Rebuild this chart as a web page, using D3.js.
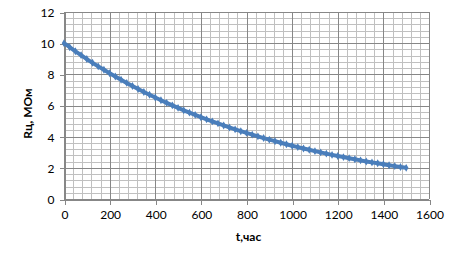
<!DOCTYPE html>
<html>
<head>
<meta charset="utf-8">
<script src="https://cdn.jsdelivr.net/npm/d3@7"></script>
<style>
  body { margin: 0; background: #fff; }
  svg { display: block; font-family: Lato, "Open Sans", sans-serif; }
</style>
</head>
<body>
<div id="chart"></div>
<script>
// hours
const hours = [0, 25, 50, 75, 100, 125, 150, 175, 200, 225, 250, 275, 300, 325, 350, 375,
  400, 425, 450, 475, 500, 525, 550, 575, 600, 625, 650, 675, 700, 725, 750, 775,
  800, 825, 850, 875, 900, 925, 950, 975, 1000, 1025, 1050, 1075, 1100, 1125, 1150, 1175,
  1200, 1225, 1250, 1275, 1300, 1325, 1350, 1375, 1400, 1425, 1450, 1475, 1500];
// resistance, MOhm
const resist = [10, 9.74, 9.48, 9.23, 8.98, 8.74, 8.51, 8.29, 8.07, 7.86, 7.65, 7.45, 7.25, 7.06, 6.87, 6.69,
  6.51, 6.34, 6.17, 6.01, 5.85, 5.69, 5.54, 5.40, 5.25, 5.11, 4.98, 4.85, 4.72, 4.59, 4.47, 4.35,
  4.24, 4.13, 4.02, 3.91, 3.81, 3.71, 3.61, 3.51, 3.42, 3.33, 3.24, 3.16, 3.07, 2.99, 2.91, 2.83,
  2.76, 2.69, 2.62, 2.55, 2.48, 2.41, 2.35, 2.29, 2.23, 2.17, 2.11, 2.05, 2.00];
const xTicks = [0, 200, 400, 600, 800, 1000, 1200, 1400, 1600];
const yTicks = [0, 2, 4, 6, 8, 10, 12];

const width = 460, height = 264;
const margin = { top: 12, right: 31, bottom: 65, left: 64 };

const data = hours.map((h, i) => ({ t: h, r: resist[i] }));

const svg = d3.select("#chart").append("svg")
  .attr("width", width).attr("height", height);

const x = d3.scaleLinear().domain([0, 1600]).range([margin.left, width - margin.right]);
const y = d3.scaleLinear().domain([0, 12]).range([height - margin.bottom, margin.top]);

// minor grid
const minorX = d3.range(0, 1601, 40);
const minorY = d3.range(0, 12.01, 0.4);
const grid = svg.append("g").attr("shape-rendering", "crispEdges");
grid.selectAll("line.mx").data(minorX).join("line")
  .attr("x1", d => Math.round(x(d)) + 0.5).attr("x2", d => Math.round(x(d)) + 0.5)
  .attr("y1", y(0)).attr("y2", y(12))
  .attr("stroke", "#c0c0c0").attr("stroke-width", 1);
grid.selectAll("line.my").data(minorY).join("line")
  .attr("y1", d => Math.round(y(d)) + 0.5).attr("y2", d => Math.round(y(d)) + 0.5)
  .attr("x1", x(0)).attr("x2", x(1600))
  .attr("stroke", "#c0c0c0").attr("stroke-width", 1);
// major grid
grid.selectAll("line.Mx").data(xTicks).join("line")
  .attr("x1", d => Math.round(x(d)) + 0.5).attr("x2", d => Math.round(x(d)) + 0.5)
  .attr("y1", y(0)).attr("y2", y(12))
  .attr("stroke", "#878787").attr("stroke-width", 1);
grid.selectAll("line.My").data(yTicks).join("line")
  .attr("y1", d => Math.round(y(d)) + 0.5).attr("y2", d => Math.round(y(d)) + 0.5)
  .attr("x1", x(0)).attr("x2", x(1600))
  .attr("stroke", "#878787").attr("stroke-width", 1);

// axes
const xAxis = svg.append("g")
  .attr("transform", `translate(0.5, ${Math.round(y(0)) + 0.5})`)
  .call(d3.axisBottom(x).tickValues(xTicks).tickSize(5).tickPadding(6).tickFormat(d3.format("d")));
const yAxis = svg.append("g")
  .attr("transform", `translate(${Math.round(x(0)) + 0.5}, 0.5)`)
  .call(d3.axisLeft(y).tickValues(yTicks).tickSize(5).tickPadding(5).tickFormat(d3.format("d")));
[xAxis, yAxis].forEach(g => {
  g.select(".domain").attr("stroke", "#878787");
  g.selectAll(".tick line").attr("stroke", "#878787");
  g.selectAll("text").attr("fill", "#000").style("font-size", "12px")
    .style("font-family", "Lato, 'Open Sans', sans-serif");
  g.attr("shape-rendering", "crispEdges");
});

// line
const line = d3.line().x(d => x(d.t)).y(d => y(d.r));
svg.append("path").datum(data)
  .attr("d", line)
  .attr("fill", "none")
  .attr("stroke", "#4a7ebb")
  .attr("stroke-width", 4);

svg.append("g").selectAll("path").data(data).join("path")
  .attr("d", d3.symbol(d3.symbolDiamond, 18))
  .attr("transform", d => `translate(${x(d.t)},${y(d.r)})`)
  .attr("fill", "#4a7ebb");

// axis titles
svg.append("text")
  .attr("x", (x(0) + x(1600)) / 2 + 2).attr("y", 241)
  .attr("text-anchor", "middle")
  .style("font-size", "12px").style("font-weight", "bold")
  .text("t,час");
svg.append("text")
  .attr("transform", `translate(32, ${(y(0) + y(12)) / 2 + 8}) rotate(-90)`)
  .attr("text-anchor", "middle")
  .style("font-size", "12px").style("font-weight", "bold")
  .text("Rц, МОм");
</script>
</body>
</html>
